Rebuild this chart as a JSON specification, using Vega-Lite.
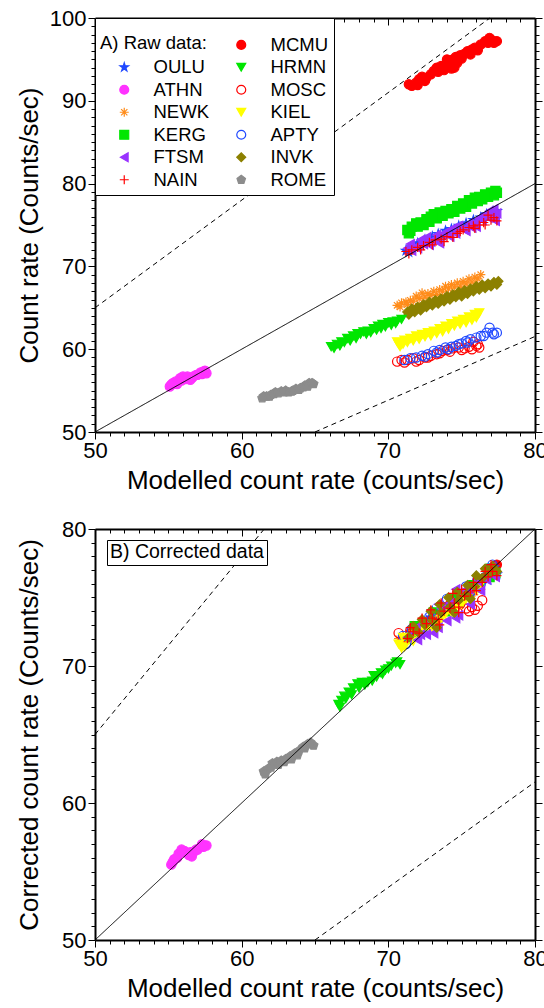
{
  "$schema": "https://vega.github.io/schema/vega-lite/v6.json",
  "padding": {"left": 16, "top": 7, "right": 5, "bottom": 5},
  "config": {
    "font": "Liberation Sans",
    "view": {"stroke": null},
    "axis": {"domainColor": "black", "domainWidth": 2, "tickColor": "black", "tickWidth": 1, "labelColor": "black", "titleColor": "black", "labelFontSize": 22, "titleFontSize": 26, "titleFontWeight": "normal", "grid": false, "labelOverlap": false, "labelFlush": false, "labelBound": false, "labelPadding": 2},
    "legend": {"labelFontSize": 18.5, "titleFontSize": 18.5, "titleFontWeight": "normal", "labelColor": "black", "titleColor": "black"}
  },
  "datasets": {
    "raw": [
      {"s":"MCMU","x":71.4,"y":92.0},{"s":"MCMU","x":71.6,"y":91.8},{"s":"MCMU","x":71.9,"y":92.2},{"s":"MCMU","x":72.1,"y":92.6},{"s":"MCMU","x":72.3,"y":92.9},{"s":"MCMU","x":72.6,"y":92.8},{"s":"MCMU","x":72.9,"y":93.2},{"s":"MCMU","x":73.3,"y":94.0},{"s":"MCMU","x":73.6,"y":94.2},{"s":"MCMU","x":73.9,"y":94.1},{"s":"MCMU","x":74.1,"y":94.5},{"s":"MCMU","x":74.3,"y":93.9},{"s":"MCMU","x":74.4,"y":95.0},{"s":"MCMU","x":74.5,"y":94.0},{"s":"MCMU","x":74.7,"y":94.6},{"s":"MCMU","x":74.9,"y":95.5},{"s":"MCMU","x":75.2,"y":95.7},{"s":"MCMU","x":75.4,"y":96.0},{"s":"MCMU","x":75.7,"y":96.2},{"s":"MCMU","x":75.9,"y":96.4},{"s":"MCMU","x":76.3,"y":96.8},{"s":"MCMU","x":76.6,"y":97.2},{"s":"MCMU","x":76.9,"y":97.6},{"s":"MCMU","x":77.1,"y":97.3},{"s":"MCMU","x":77.4,"y":97.2},
      {"s":"MCMU","x":72.0,"y":91.9},{"s":"MCMU","x":72.5,"y":92.4},{"s":"MCMU","x":73.1,"y":93.6},{"s":"MCMU","x":73.4,"y":93.5},{"s":"MCMU","x":73.8,"y":93.7},{"s":"MCMU","x":74.0,"y":95.0},{"s":"MCMU","x":74.2,"y":94.8},{"s":"MCMU","x":74.6,"y":95.3},{"s":"MCMU","x":75.0,"y":95.1},{"s":"MCMU","x":75.6,"y":95.6},{"s":"MCMU","x":76.1,"y":96.1},{"s":"MCMU","x":76.8,"y":97.0},{"s":"MCMU","x":77.2,"y":97.0},
      {"s":"KERG","x":71.3,"y":74.4},{"s":"KERG","x":71.4,"y":74.0},{"s":"KERG","x":71.6,"y":74.8},{"s":"KERG","x":71.9,"y":75.2},{"s":"KERG","x":72.2,"y":75.3},{"s":"KERG","x":72.6,"y":75.7},{"s":"KERG","x":72.9,"y":76.0},{"s":"KERG","x":73.1,"y":76.3},{"s":"KERG","x":73.5,"y":76.5},{"s":"KERG","x":73.9,"y":76.7},{"s":"KERG","x":74.3,"y":76.9},{"s":"KERG","x":74.7,"y":77.3},{"s":"KERG","x":75.1,"y":77.6},{"s":"KERG","x":75.5,"y":78.0},{"s":"KERG","x":75.9,"y":78.3},{"s":"KERG","x":76.2,"y":78.4},{"s":"KERG","x":76.6,"y":78.7},{"s":"KERG","x":77.0,"y":78.9},{"s":"KERG","x":77.3,"y":79.1},{"s":"KERG","x":77.4,"y":78.9},
      {"s":"KERG","x":71.5,"y":74.3},{"s":"KERG","x":72.0,"y":74.8},{"s":"KERG","x":72.4,"y":75.0},{"s":"KERG","x":72.8,"y":75.4},{"s":"KERG","x":73.3,"y":75.8},{"s":"KERG","x":73.7,"y":76.1},{"s":"KERG","x":74.1,"y":76.4},{"s":"KERG","x":74.5,"y":76.6},{"s":"KERG","x":74.9,"y":77.0},{"s":"KERG","x":75.3,"y":77.2},{"s":"KERG","x":75.7,"y":77.6},{"s":"KERG","x":76.1,"y":77.9},{"s":"KERG","x":76.4,"y":78.1},{"s":"KERG","x":76.8,"y":78.4},{"s":"KERG","x":77.2,"y":78.6},
      {"s":"OULU","x":71.2,"y":71.9},{"s":"OULU","x":71.6,"y":72.3},{"s":"OULU","x":72.0,"y":72.8},{"s":"OULU","x":72.5,"y":73.2},{"s":"OULU","x":73.0,"y":73.6},{"s":"OULU","x":73.4,"y":73.9},{"s":"OULU","x":73.9,"y":74.3},{"s":"OULU","x":74.3,"y":74.5},{"s":"OULU","x":74.8,"y":74.9},{"s":"OULU","x":75.3,"y":75.2},{"s":"OULU","x":75.8,"y":75.6},{"s":"OULU","x":76.3,"y":75.9},{"s":"OULU","x":76.7,"y":76.3},{"s":"OULU","x":77.1,"y":76.6},{"s":"OULU","x":77.4,"y":76.7},
      {"s":"OULU","x":71.4,"y":71.7},{"s":"OULU","x":72.2,"y":72.6},{"s":"OULU","x":73.7,"y":73.7},{"s":"OULU","x":74.5,"y":74.3},{"s":"OULU","x":75.6,"y":75.0},{"s":"OULU","x":76.9,"y":76.0},
      {"s":"FTSM","x":71.3,"y":72.2},{"s":"FTSM","x":71.5,"y":72.7},{"s":"FTSM","x":71.9,"y":72.4},{"s":"FTSM","x":72.2,"y":73.2},{"s":"FTSM","x":72.6,"y":73.5},{"s":"FTSM","x":72.9,"y":73.0},{"s":"FTSM","x":73.3,"y":73.8},{"s":"FTSM","x":73.7,"y":73.9},{"s":"FTSM","x":74.0,"y":74.2},{"s":"FTSM","x":74.4,"y":74.6},{"s":"FTSM","x":74.8,"y":74.9},{"s":"FTSM","x":75.1,"y":74.5},{"s":"FTSM","x":75.5,"y":75.2},{"s":"FTSM","x":75.9,"y":75.3},{"s":"FTSM","x":76.2,"y":75.8},{"s":"FTSM","x":76.6,"y":76.3},{"s":"FTSM","x":76.9,"y":76.7},{"s":"FTSM","x":77.1,"y":76.1},{"s":"FTSM","x":77.4,"y":76.4},{"s":"FTSM","x":77.3,"y":75.5},
      {"s":"FTSM","x":71.6,"y":71.9},{"s":"FTSM","x":72.0,"y":72.2},{"s":"FTSM","x":72.4,"y":72.7},{"s":"FTSM","x":72.8,"y":72.6},{"s":"FTSM","x":73.2,"y":73.3},{"s":"FTSM","x":73.5,"y":72.8},{"s":"FTSM","x":74.2,"y":73.6},{"s":"FTSM","x":74.6,"y":74.0},{"s":"FTSM","x":75.3,"y":74.3},{"s":"FTSM","x":75.7,"y":74.7},{"s":"FTSM","x":76.0,"y":74.8},{"s":"FTSM","x":76.4,"y":75.6},{"s":"FTSM","x":76.8,"y":75.9},{"s":"FTSM","x":77.2,"y":76.9},
      {"s":"NAIN","x":71.2,"y":71.8},{"s":"NAIN","x":71.6,"y":72.0},{"s":"NAIN","x":72.0,"y":72.3},{"s":"NAIN","x":72.4,"y":72.5},{"s":"NAIN","x":72.8,"y":72.9},{"s":"NAIN","x":73.2,"y":73.2},{"s":"NAIN","x":73.6,"y":73.3},{"s":"NAIN","x":74.0,"y":73.6},{"s":"NAIN","x":74.4,"y":73.5},{"s":"NAIN","x":74.7,"y":74.0},{"s":"NAIN","x":75.1,"y":74.4},{"s":"NAIN","x":75.5,"y":74.7},{"s":"NAIN","x":75.8,"y":74.9},{"s":"NAIN","x":76.2,"y":75.0},{"s":"NAIN","x":76.5,"y":75.3},{"s":"NAIN","x":76.8,"y":76.2},{"s":"NAIN","x":77.0,"y":75.6},{"s":"NAIN","x":77.4,"y":75.5},
      {"s":"NAIN","x":71.4,"y":71.5},{"s":"NAIN","x":72.2,"y":72.0},{"s":"NAIN","x":73.0,"y":72.6},{"s":"NAIN","x":73.8,"y":73.0},{"s":"NAIN","x":74.9,"y":74.2},{"s":"NAIN","x":75.9,"y":74.6},{"s":"NAIN","x":76.6,"y":75.0},{"s":"NAIN","x":77.2,"y":75.9},
      {"s":"NEWK","x":70.6,"y":65.3},{"s":"NEWK","x":70.9,"y":65.6},{"s":"NEWK","x":71.2,"y":65.7},{"s":"NEWK","x":71.5,"y":65.9},{"s":"NEWK","x":71.9,"y":66.4},{"s":"NEWK","x":72.3,"y":66.8},{"s":"NEWK","x":72.7,"y":66.7},{"s":"NEWK","x":73.1,"y":67.0},{"s":"NEWK","x":73.5,"y":67.2},{"s":"NEWK","x":73.9,"y":67.6},{"s":"NEWK","x":74.3,"y":67.8},{"s":"NEWK","x":74.7,"y":68.0},{"s":"NEWK","x":75.1,"y":68.2},{"s":"NEWK","x":75.5,"y":68.5},{"s":"NEWK","x":75.9,"y":68.7},{"s":"NEWK","x":76.3,"y":69.0},
      {"s":"NEWK","x":70.8,"y":65.1},{"s":"NEWK","x":71.3,"y":65.4},{"s":"NEWK","x":71.7,"y":65.8},{"s":"NEWK","x":72.1,"y":66.1},{"s":"NEWK","x":72.5,"y":66.3},{"s":"NEWK","x":72.9,"y":66.5},{"s":"NEWK","x":73.3,"y":66.6},{"s":"NEWK","x":73.7,"y":67.0},{"s":"NEWK","x":74.1,"y":67.3},{"s":"NEWK","x":74.5,"y":67.5},{"s":"NEWK","x":74.9,"y":67.6},{"s":"NEWK","x":75.3,"y":67.9},{"s":"NEWK","x":75.7,"y":68.1},{"s":"NEWK","x":76.1,"y":68.5},
      {"s":"INVK","x":71.3,"y":64.5},{"s":"INVK","x":71.6,"y":64.9},{"s":"INVK","x":72.0,"y":65.1},{"s":"INVK","x":72.4,"y":65.4},{"s":"INVK","x":72.8,"y":65.7},{"s":"INVK","x":73.2,"y":65.9},{"s":"INVK","x":73.6,"y":66.1},{"s":"INVK","x":74.0,"y":66.4},{"s":"INVK","x":74.4,"y":66.6},{"s":"INVK","x":74.8,"y":66.9},{"s":"INVK","x":75.2,"y":67.1},{"s":"INVK","x":75.6,"y":67.3},{"s":"INVK","x":76.0,"y":67.6},{"s":"INVK","x":76.4,"y":67.8},{"s":"INVK","x":76.8,"y":67.9},{"s":"INVK","x":77.2,"y":68.1},{"s":"INVK","x":77.5,"y":68.2},
      {"s":"INVK","x":71.4,"y":64.2},{"s":"INVK","x":71.8,"y":64.5},{"s":"INVK","x":72.2,"y":64.7},{"s":"INVK","x":72.6,"y":65.1},{"s":"INVK","x":73.0,"y":65.3},{"s":"INVK","x":73.4,"y":65.5},{"s":"INVK","x":73.8,"y":65.8},{"s":"INVK","x":74.2,"y":66.0},{"s":"INVK","x":74.6,"y":66.3},{"s":"INVK","x":75.0,"y":66.4},{"s":"INVK","x":75.4,"y":66.7},{"s":"INVK","x":75.8,"y":67.0},{"s":"INVK","x":76.2,"y":67.2},{"s":"INVK","x":76.6,"y":67.4},{"s":"INVK","x":77.0,"y":67.6},{"s":"INVK","x":77.4,"y":67.8},
      {"s":"KIEL","x":70.6,"y":60.9},{"s":"KIEL","x":70.8,"y":60.3},{"s":"KIEL","x":71.1,"y":61.1},{"s":"KIEL","x":71.5,"y":61.3},{"s":"KIEL","x":71.9,"y":61.6},{"s":"KIEL","x":72.3,"y":61.8},{"s":"KIEL","x":72.7,"y":62.0},{"s":"KIEL","x":73.1,"y":62.2},{"s":"KIEL","x":73.5,"y":62.5},{"s":"KIEL","x":73.9,"y":62.8},{"s":"KIEL","x":74.3,"y":63.1},{"s":"KIEL","x":74.7,"y":63.4},{"s":"KIEL","x":75.1,"y":63.6},{"s":"KIEL","x":75.5,"y":63.9},{"s":"KIEL","x":75.9,"y":64.2},{"s":"KIEL","x":76.2,"y":64.4},
      {"s":"KIEL","x":70.7,"y":60.6},{"s":"KIEL","x":71.0,"y":60.6},{"s":"KIEL","x":71.3,"y":60.8},{"s":"KIEL","x":71.7,"y":61.0},{"s":"KIEL","x":72.1,"y":61.2},{"s":"KIEL","x":72.5,"y":61.5},{"s":"KIEL","x":72.9,"y":61.6},{"s":"KIEL","x":73.3,"y":61.9},{"s":"KIEL","x":73.7,"y":62.1},{"s":"KIEL","x":74.1,"y":62.4},{"s":"KIEL","x":74.5,"y":62.8},{"s":"KIEL","x":74.9,"y":63.0},{"s":"KIEL","x":75.3,"y":63.2},{"s":"KIEL","x":75.7,"y":63.5},{"s":"KIEL","x":76.0,"y":63.8},
      {"s":"HRMN","x":66.1,"y":60.3},{"s":"HRMN","x":66.5,"y":60.6},{"s":"HRMN","x":66.8,"y":60.9},{"s":"HRMN","x":67.2,"y":61.3},{"s":"HRMN","x":67.6,"y":61.6},{"s":"HRMN","x":67.9,"y":61.9},{"s":"HRMN","x":68.3,"y":62.1},{"s":"HRMN","x":68.6,"y":62.2},{"s":"HRMN","x":69.0,"y":62.5},{"s":"HRMN","x":69.3,"y":62.8},{"s":"HRMN","x":69.6,"y":63.0},{"s":"HRMN","x":70.0,"y":63.2},{"s":"HRMN","x":70.3,"y":63.3},{"s":"HRMN","x":70.6,"y":63.4},{"s":"HRMN","x":70.9,"y":63.6},
      {"s":"HRMN","x":66.3,"y":60.1},{"s":"HRMN","x":66.7,"y":60.4},{"s":"HRMN","x":67.0,"y":60.8},{"s":"HRMN","x":67.4,"y":61.0},{"s":"HRMN","x":67.8,"y":61.3},{"s":"HRMN","x":68.1,"y":61.8},{"s":"HRMN","x":68.5,"y":61.8},{"s":"HRMN","x":68.8,"y":62.0},{"s":"HRMN","x":69.2,"y":62.3},{"s":"HRMN","x":69.5,"y":62.5},{"s":"HRMN","x":69.8,"y":62.7},{"s":"HRMN","x":70.2,"y":62.9},{"s":"HRMN","x":70.5,"y":63.1},
      {"s":"MOSC","x":70.6,"y":58.5},{"s":"MOSC","x":70.9,"y":58.7},{"s":"MOSC","x":71.3,"y":58.7},{"s":"MOSC","x":71.7,"y":58.9},{"s":"MOSC","x":72.1,"y":58.7},{"s":"MOSC","x":72.5,"y":59.0},{"s":"MOSC","x":72.9,"y":59.2},{"s":"MOSC","x":73.3,"y":59.4},{"s":"MOSC","x":73.7,"y":59.8},{"s":"MOSC","x":74.0,"y":59.9},{"s":"MOSC","x":74.4,"y":60.1},{"s":"MOSC","x":74.8,"y":60.2},{"s":"MOSC","x":75.2,"y":60.1},{"s":"MOSC","x":75.5,"y":60.3},{"s":"MOSC","x":75.8,"y":60.9},{"s":"MOSC","x":76.0,"y":60.4},{"s":"MOSC","x":76.2,"y":60.2},
      {"s":"MOSC","x":71.1,"y":58.4},{"s":"MOSC","x":71.9,"y":58.5},{"s":"MOSC","x":72.7,"y":59.0},{"s":"MOSC","x":73.5,"y":59.5},{"s":"MOSC","x":74.2,"y":59.7},{"s":"MOSC","x":75.0,"y":59.9},{"s":"MOSC","x":75.7,"y":60.0},{"s":"MOSC","x":76.1,"y":60.6},
      {"s":"APTY","x":71.1,"y":58.7},{"s":"APTY","x":71.5,"y":58.9},{"s":"APTY","x":71.9,"y":59.0},{"s":"APTY","x":72.3,"y":59.2},{"s":"APTY","x":72.7,"y":59.4},{"s":"APTY","x":73.1,"y":59.8},{"s":"APTY","x":73.5,"y":59.9},{"s":"APTY","x":73.9,"y":60.2},{"s":"APTY","x":74.3,"y":60.3},{"s":"APTY","x":74.6,"y":60.4},{"s":"APTY","x":75.0,"y":60.7},{"s":"APTY","x":75.3,"y":61.0},{"s":"APTY","x":75.6,"y":61.2},{"s":"APTY","x":76.0,"y":61.4},{"s":"APTY","x":76.3,"y":61.6},{"s":"APTY","x":76.7,"y":62.0},{"s":"APTY","x":76.9,"y":62.6},{"s":"APTY","x":77.1,"y":62.0},{"s":"APTY","x":77.4,"y":62.0},
      {"s":"APTY","x":72.5,"y":59.1},{"s":"APTY","x":73.3,"y":59.6},{"s":"APTY","x":74.1,"y":60.0},{"s":"APTY","x":74.8,"y":60.6},{"s":"APTY","x":75.4,"y":60.8},{"s":"APTY","x":76.5,"y":61.6},{"s":"APTY","x":77.2,"y":61.8},
      {"s":"ATHN","x":55.1,"y":55.5},{"s":"ATHN","x":55.3,"y":55.9},{"s":"ATHN","x":55.5,"y":56.1},{"s":"ATHN","x":55.8,"y":56.5},{"s":"ATHN","x":56.0,"y":56.7},{"s":"ATHN","x":56.2,"y":56.4},{"s":"ATHN","x":56.5,"y":56.3},{"s":"ATHN","x":56.7,"y":56.7},{"s":"ATHN","x":56.9,"y":56.9},{"s":"ATHN","x":57.2,"y":57.2},{"s":"ATHN","x":57.4,"y":57.3},{"s":"ATHN","x":57.6,"y":57.1},
      {"s":"ATHN","x":55.2,"y":55.7},{"s":"ATHN","x":55.6,"y":55.8},{"s":"ATHN","x":55.9,"y":56.2},{"s":"ATHN","x":56.3,"y":56.7},{"s":"ATHN","x":56.6,"y":56.5},{"s":"ATHN","x":57.0,"y":56.9},{"s":"ATHN","x":57.3,"y":57.0},{"s":"ATHN","x":57.5,"y":57.4},
      {"s":"ROME","x":61.4,"y":54.1},{"s":"ROME","x":61.7,"y":54.3},{"s":"ROME","x":62.0,"y":54.5},{"s":"ROME","x":62.3,"y":54.8},{"s":"ROME","x":62.7,"y":54.9},{"s":"ROME","x":63.0,"y":55.0},{"s":"ROME","x":63.4,"y":54.9},{"s":"ROME","x":63.7,"y":55.2},{"s":"ROME","x":64.0,"y":55.3},{"s":"ROME","x":64.3,"y":55.6},{"s":"ROME","x":64.6,"y":55.9},{"s":"ROME","x":64.9,"y":55.8},
      {"s":"ROME","x":61.5,"y":54.3},{"s":"ROME","x":61.9,"y":54.3},{"s":"ROME","x":62.2,"y":54.6},{"s":"ROME","x":62.5,"y":54.7},{"s":"ROME","x":62.9,"y":54.8},{"s":"ROME","x":63.2,"y":54.8},{"s":"ROME","x":63.5,"y":55.0},{"s":"ROME","x":63.9,"y":55.1},{"s":"ROME","x":64.2,"y":55.4},{"s":"ROME","x":64.5,"y":55.5},{"s":"ROME","x":64.8,"y":55.9}
    ],
    "corr": [
      {"s":"ATHN","x":55.2,"y":55.5},{"s":"ATHN","x":55.4,"y":55.9},{"s":"ATHN","x":55.7,"y":56.3},{"s":"ATHN","x":55.9,"y":56.6},{"s":"ATHN","x":56.1,"y":56.5},{"s":"ATHN","x":56.4,"y":56.2},{"s":"ATHN","x":56.6,"y":56.1},{"s":"ATHN","x":56.8,"y":56.5},{"s":"ATHN","x":57.0,"y":56.6},{"s":"ATHN","x":57.3,"y":57.0},{"s":"ATHN","x":57.6,"y":56.9},
      {"s":"ATHN","x":55.3,"y":55.7},{"s":"ATHN","x":55.6,"y":56.0},{"s":"ATHN","x":56.0,"y":56.4},{"s":"ATHN","x":56.5,"y":56.4},{"s":"ATHN","x":56.9,"y":56.6},{"s":"ATHN","x":57.4,"y":56.8},
      {"s":"ROME","x":61.5,"y":62.3},{"s":"ROME","x":61.8,"y":62.5},{"s":"ROME","x":62.1,"y":62.9},{"s":"ROME","x":62.4,"y":63.0},{"s":"ROME","x":62.7,"y":63.1},{"s":"ROME","x":63.0,"y":63.2},{"s":"ROME","x":63.3,"y":63.4},{"s":"ROME","x":63.6,"y":63.6},{"s":"ROME","x":63.9,"y":63.8},{"s":"ROME","x":64.2,"y":64.1},{"s":"ROME","x":64.5,"y":64.3},{"s":"ROME","x":64.9,"y":64.2},
      {"s":"ROME","x":61.6,"y":62.1},{"s":"ROME","x":62.0,"y":62.6},{"s":"ROME","x":62.5,"y":62.8},{"s":"ROME","x":62.9,"y":63.0},{"s":"ROME","x":63.4,"y":63.2},{"s":"ROME","x":63.8,"y":63.5},{"s":"ROME","x":64.3,"y":64.0},{"s":"ROME","x":64.7,"y":64.4},
      {"s":"HRMN","x":66.6,"y":67.2},{"s":"HRMN","x":66.8,"y":67.5},{"s":"HRMN","x":67.0,"y":67.8},{"s":"HRMN","x":67.3,"y":68.1},{"s":"HRMN","x":67.6,"y":68.4},{"s":"HRMN","x":67.9,"y":68.7},{"s":"HRMN","x":68.2,"y":68.8},{"s":"HRMN","x":68.6,"y":68.8},{"s":"HRMN","x":68.9,"y":68.9},{"s":"HRMN","x":69.2,"y":69.2},{"s":"HRMN","x":69.5,"y":69.5},{"s":"HRMN","x":69.8,"y":69.7},{"s":"HRMN","x":70.2,"y":70.0},{"s":"HRMN","x":70.5,"y":70.2},{"s":"HRMN","x":70.8,"y":70.1},
      {"s":"HRMN","x":66.7,"y":67.0},{"s":"HRMN","x":67.1,"y":67.6},{"s":"HRMN","x":67.5,"y":67.9},{"s":"HRMN","x":68.0,"y":68.4},{"s":"HRMN","x":68.4,"y":68.6},{"s":"HRMN","x":69.0,"y":69.3},{"s":"HRMN","x":69.6,"y":69.4},{"s":"HRMN","x":70.0,"y":69.8},{"s":"HRMN","x":70.6,"y":70.3},
      {"s":"MCMU","x":71.5,"y":72.4},{"s":"MCMU","x":72.2,"y":73.0},{"s":"MCMU","x":72.9,"y":73.4},{"s":"MCMU","x":73.5,"y":73.9},{"s":"MCMU","x":74.2,"y":74.5},{"s":"MCMU","x":74.6,"y":74.6},{"s":"MCMU","x":75.3,"y":75.3},{"s":"MCMU","x":75.9,"y":75.8},{"s":"MCMU","x":76.5,"y":76.4},{"s":"MCMU","x":77.2,"y":77.0},
      {"s":"MCMU","x":71.9,"y":72.9},{"s":"MCMU","x":73.2,"y":73.8},{"s":"MCMU","x":74.9,"y":74.9},{"s":"MCMU","x":76.2,"y":76.2},{"s":"MCMU","x":77.4,"y":77.4},
      {"s":"OULU","x":71.3,"y":72.1},{"s":"OULU","x":72.0,"y":72.6},{"s":"OULU","x":72.6,"y":73.3},{"s":"OULU","x":73.3,"y":73.7},{"s":"OULU","x":74.0,"y":74.2},{"s":"OULU","x":74.7,"y":74.6},{"s":"OULU","x":75.4,"y":75.2},{"s":"OULU","x":76.1,"y":75.6},{"s":"OULU","x":76.8,"y":76.3},{"s":"OULU","x":77.4,"y":76.7},
      {"s":"OULU","x":71.7,"y":72.7},{"s":"OULU","x":73.0,"y":74.0},{"s":"OULU","x":74.4,"y":74.9},{"s":"OULU","x":75.8,"y":76.1},{"s":"OULU","x":77.2,"y":77.2},
      {"s":"KERG","x":71.4,"y":72.0},{"s":"KERG","x":72.0,"y":72.5},{"s":"KERG","x":72.7,"y":73.1},{"s":"KERG","x":73.4,"y":73.6},{"s":"KERG","x":74.1,"y":74.0},{"s":"KERG","x":74.8,"y":74.7},{"s":"KERG","x":75.5,"y":75.3},{"s":"KERG","x":76.2,"y":75.9},{"s":"KERG","x":76.9,"y":76.5},{"s":"KERG","x":77.3,"y":76.8},
      {"s":"KERG","x":71.8,"y":72.9},{"s":"KERG","x":73.1,"y":73.9},{"s":"KERG","x":74.4,"y":74.9},{"s":"KERG","x":75.8,"y":75.9},{"s":"KERG","x":77.0,"y":77.1},
      {"s":"NEWK","x":70.7,"y":72.0},{"s":"NEWK","x":71.3,"y":72.1},{"s":"NEWK","x":71.9,"y":72.6},{"s":"NEWK","x":72.6,"y":73.2},{"s":"NEWK","x":73.3,"y":73.6},{"s":"NEWK","x":74.0,"y":74.3},{"s":"NEWK","x":74.6,"y":74.5},{"s":"NEWK","x":75.3,"y":74.9},{"s":"NEWK","x":75.9,"y":75.4},{"s":"NEWK","x":76.3,"y":75.6},
      {"s":"NEWK","x":71.0,"y":71.8},{"s":"NEWK","x":71.6,"y":72.4},{"s":"NEWK","x":72.3,"y":73.0},{"s":"NEWK","x":73.0,"y":73.4},{"s":"NEWK","x":73.7,"y":73.8},{"s":"NEWK","x":74.3,"y":74.0},{"s":"NEWK","x":75.0,"y":74.7},{"s":"NEWK","x":75.6,"y":75.1},
      {"s":"MOSC","x":70.7,"y":72.4},{"s":"MOSC","x":71.0,"y":71.9},{"s":"MOSC","x":71.5,"y":72.6},{"s":"MOSC","x":72.2,"y":72.8},{"s":"MOSC","x":72.9,"y":73.3},{"s":"MOSC","x":73.6,"y":73.8},{"s":"MOSC","x":74.3,"y":74.3},{"s":"MOSC","x":74.9,"y":74.5},{"s":"MOSC","x":75.3,"y":74.2},{"s":"MOSC","x":75.7,"y":74.3},{"s":"MOSC","x":76.1,"y":74.4},{"s":"MOSC","x":75.9,"y":74.1},
      {"s":"MOSC","x":71.3,"y":72.0},{"s":"MOSC","x":71.8,"y":72.2},{"s":"MOSC","x":72.5,"y":72.6},{"s":"MOSC","x":73.2,"y":73.0},{"s":"MOSC","x":76.4,"y":74.8},{"s":"MOSC","x":75.5,"y":74.0},
      {"s":"APTY","x":71.2,"y":71.6},{"s":"APTY","x":71.8,"y":72.2},{"s":"APTY","x":72.4,"y":72.8},{"s":"APTY","x":73.0,"y":73.5},{"s":"APTY","x":73.7,"y":74.0},{"s":"APTY","x":74.3,"y":74.4},{"s":"APTY","x":75.0,"y":75.2},{"s":"APTY","x":75.6,"y":75.4},{"s":"APTY","x":76.3,"y":76.0},{"s":"APTY","x":76.9,"y":77.1},{"s":"APTY","x":77.3,"y":76.8},
      {"s":"APTY","x":71.0,"y":72.2},{"s":"APTY","x":71.6,"y":72.7},{"s":"APTY","x":72.8,"y":73.6},{"s":"APTY","x":74.0,"y":74.9},{"s":"APTY","x":75.3,"y":75.8},{"s":"APTY","x":76.6,"y":76.5},{"s":"APTY","x":77.1,"y":77.4},
      {"s":"KIEL","x":70.7,"y":71.6},{"s":"KIEL","x":70.9,"y":71.3},{"s":"KIEL","x":71.4,"y":71.9},{"s":"KIEL","x":72.0,"y":72.3},{"s":"KIEL","x":72.7,"y":72.9},{"s":"KIEL","x":73.3,"y":73.1},{"s":"KIEL","x":73.9,"y":73.8},{"s":"KIEL","x":74.6,"y":74.3},{"s":"KIEL","x":75.3,"y":74.9},{"s":"KIEL","x":76.0,"y":75.5},{"s":"KIEL","x":76.2,"y":75.8},
      {"s":"KIEL","x":71.1,"y":71.4},{"s":"KIEL","x":71.7,"y":71.8},{"s":"KIEL","x":72.4,"y":72.6},{"s":"KIEL","x":73.0,"y":72.8},{"s":"KIEL","x":73.6,"y":73.4},{"s":"KIEL","x":74.3,"y":73.9},{"s":"KIEL","x":75.0,"y":74.5},{"s":"KIEL","x":71.0,"y":72.1},
      {"s":"FTSM","x":71.3,"y":72.1},{"s":"FTSM","x":71.9,"y":72.8},{"s":"FTSM","x":72.2,"y":72.3},{"s":"FTSM","x":72.8,"y":73.2},{"s":"FTSM","x":73.1,"y":72.4},{"s":"FTSM","x":73.6,"y":74.2},{"s":"FTSM","x":74.2,"y":74.6},{"s":"FTSM","x":74.6,"y":73.5},{"s":"FTSM","x":75.0,"y":75.4},{"s":"FTSM","x":75.5,"y":75.6},{"s":"FTSM","x":76.1,"y":76.2},{"s":"FTSM","x":76.7,"y":76.3},{"s":"FTSM","x":77.0,"y":77.2},{"s":"FTSM","x":77.3,"y":76.5},
      {"s":"FTSM","x":72.0,"y":71.9},{"s":"FTSM","x":72.6,"y":72.3},{"s":"FTSM","x":73.4,"y":72.8},{"s":"FTSM","x":74.0,"y":73.3},{"s":"FTSM","x":74.8,"y":73.7},{"s":"FTSM","x":75.6,"y":74.5},{"s":"FTSM","x":76.3,"y":75.5},{"s":"FTSM","x":76.7,"y":77.0},{"s":"FTSM","x":74.6,"y":75.6},{"s":"FTSM","x":73.4,"y":74.5},
      {"s":"INVK","x":71.4,"y":72.1},{"s":"INVK","x":72.0,"y":72.5},{"s":"INVK","x":72.5,"y":73.0},{"s":"INVK","x":73.0,"y":73.3},{"s":"INVK","x":73.6,"y":73.9},{"s":"INVK","x":74.2,"y":74.3},{"s":"INVK","x":74.8,"y":74.8},{"s":"INVK","x":75.3,"y":75.2},{"s":"INVK","x":75.9,"y":75.8},{"s":"INVK","x":76.4,"y":76.4},{"s":"INVK","x":76.9,"y":76.8},{"s":"INVK","x":77.4,"y":76.9},{"s":"INVK","x":77.1,"y":77.3},
      {"s":"INVK","x":71.7,"y":72.9},{"s":"INVK","x":72.3,"y":73.4},{"s":"INVK","x":72.9,"y":74.0},{"s":"INVK","x":73.5,"y":74.5},{"s":"INVK","x":74.1,"y":75.0},{"s":"INVK","x":74.7,"y":75.4},{"s":"INVK","x":75.4,"y":75.9},{"s":"INVK","x":76.0,"y":76.6},{"s":"INVK","x":76.6,"y":77.1},{"s":"INVK","x":73.3,"y":72.8},{"s":"INVK","x":74.5,"y":73.9},{"s":"INVK","x":75.6,"y":74.9},
      {"s":"NAIN","x":71.3,"y":72.0},{"s":"NAIN","x":71.7,"y":72.5},{"s":"NAIN","x":72.1,"y":72.4},{"s":"NAIN","x":72.6,"y":73.1},{"s":"NAIN","x":73.0,"y":73.5},{"s":"NAIN","x":73.4,"y":73.4},{"s":"NAIN","x":73.8,"y":74.0},{"s":"NAIN","x":74.2,"y":74.2},{"s":"NAIN","x":74.5,"y":74.6},{"s":"NAIN","x":74.8,"y":73.9},{"s":"NAIN","x":75.2,"y":75.1},{"s":"NAIN","x":75.6,"y":75.4},{"s":"NAIN","x":76.0,"y":75.5},{"s":"NAIN","x":76.4,"y":76.1},{"s":"NAIN","x":76.8,"y":76.5},{"s":"NAIN","x":77.1,"y":76.9},{"s":"NAIN","x":77.4,"y":76.6},
      {"s":"NAIN","x":71.5,"y":72.8},{"s":"NAIN","x":72.3,"y":73.5},{"s":"NAIN","x":72.9,"y":74.1},{"s":"NAIN","x":73.6,"y":74.6},{"s":"NAIN","x":74.4,"y":75.3},{"s":"NAIN","x":75.0,"y":75.6},{"s":"NAIN","x":75.8,"y":76.1},{"s":"NAIN","x":76.6,"y":76.9},{"s":"NAIN","x":77.0,"y":77.4},{"s":"NAIN","x":73.5,"y":73.0},{"s":"NAIN","x":74.8,"y":74.3}
    ],
    "linesA": [
      {"g":"a","k":"solid","x":50,"y":50},{"g":"a","k":"solid","x":80,"y":80},
      {"g":"b","k":"dashed","x":50,"y":65},{"g":"b","k":"dashed","x":76.923,"y":100},
      {"g":"c","k":"dashed","x":65,"y":50},{"g":"c","k":"dashed","x":80,"y":61.538}
    ],
    "linesB": [
      {"g":"a","k":"solid","x":50,"y":50},{"g":"a","k":"solid","x":80,"y":80},
      {"g":"b","k":"dashed","x":50,"y":65},{"g":"b","k":"dashed","x":61.538,"y":80},
      {"g":"c","k":"dashed","x":65,"y":50},{"g":"c","k":"dashed","x":80,"y":61.538}
    ]
  },
  "vconcat": [
    {
      "width": 440,
      "height": 414,
      "layer": [
        {
          "data": {"name": "raw"},
          "mark": {"type": "point", "strokeWidth": 1.2, "opacity": 1, "size": 85},
          "encoding": {
            "x": {"field": "x", "type": "quantitative", "scale": {"domain": [50, 80], "nice": false, "zero": false},
              "axis": {"orient": "top", "values": [50,51,52,53,54,55,56,57,58,59,60,61,62,63,64,65,66,67,68,69,70,71,72,73,74,75,76,77,78,79,80], "labels": false, "title": null, "tickSize": {"condition": {"test": "datum.value % 10 === 0", "value": -7}, "value": -4}}},
            "y": {"field": "y", "type": "quantitative", "scale": {"domain": [50, 100], "nice": false, "zero": false},
              "axis": {"orient": "right", "values": [50,51,52,53,54,55,56,57,58,59,60,61,62,63,64,65,66,67,68,69,70,71,72,73,74,75,76,77,78,79,80,81,82,83,84,85,86,87,88,89,90,91,92,93,94,95,96,97,98,99,100], "labels": false, "title": null, "tickSize": {"condition": {"test": "datum.value % 10 === 0", "value": 7}, "value": 4}}},
            "fill": {"field": "s", "type": "nominal",
              "scale": {"domain": [" ","OULU","ATHN","NEWK","KERG","FTSM","NAIN","MCMU","HRMN","MOSC","KIEL","APTY","INVK","ROME"],
                        "range": ["transparent","#1f48ff","#ff33ff","transparent","#00e600","#9933ff","transparent","#ff0000","#00e600","transparent","#ffff00","transparent","#8c8000","#8c8c8c"]},
              "legend": {"title": "A) Raw data:", "orient": "none", "legendX": 0, "legendY": 0, "columns": 2, "padding": 5, "strokeColor": "black", "fillColor": "white", "titleBaseline": "line-top", "titleLineHeight": 42, "titlePadding": -6, "symbolOffset": 15, "labelOffset": 20, "columnPadding": 8, "rowPadding": 3.5, "symbolSize": 80, "symbolStrokeWidth": 1.2,
                "encode": {"legend": {"update": {"strokeWidth": {"value": 2}}}}}},
            "stroke": {"field": "s", "type": "nominal",
              "scale": {"domain": [" ","OULU","ATHN","NEWK","KERG","FTSM","NAIN","MCMU","HRMN","MOSC","KIEL","APTY","INVK","ROME"],
                        "range": ["transparent","#1f48ff","#ff33ff","#ff8c1a","#00e600","#9933ff","#ff0000","#ff0000","#00e600","#ff0000","#ffff00","#1f48ff","#8c8000","#8c8c8c"]}},
            "shape": {"field": "s", "type": "nominal",
              "scale": {"domain": [" ","OULU","ATHN","NEWK","KERG","FTSM","NAIN","MCMU","HRMN","MOSC","KIEL","APTY","INVK","ROME"],
                        "range": ["M0,0L0,0", "M0,-1L0.225,-0.309L0.951,-0.309L0.363,0.118L0.588,0.809L0,0.382L-0.588,0.809L-0.363,0.118L-0.951,-0.309L-0.225,-0.309Z", "circle", "M-1,0L1,0M0,-1L0,1M-0.7,-0.7L0.7,0.7M-0.7,0.7L0.7,-0.7", "square", "triangle-left", "M-1,0L1,0M0,-1L0,1", "circle", "triangle-down", "circle", "triangle-down", "circle", "diamond", "M0,-1L0.951,-0.309L0.588,0.809L-0.588,0.809L-0.951,-0.309Z"]}}
          }
        },
        {
          "data": {"name": "linesA"},
          "mark": {"type": "line", "color": "black", "strokeWidth": 1},
          "encoding": {
            "x": {"field": "x", "type": "quantitative", "scale": {"domain": [50, 80], "nice": false, "zero": false},
              "axis": {"orient": "bottom", "values": [50,51,52,53,54,55,56,57,58,59,60,61,62,63,64,65,66,67,68,69,70,71,72,73,74,75,76,77,78,79,80], "labelExpr": "datum.value % 10 === 0 ? datum.label : ''", "labelPadding": 1, "title": "Modelled count rate (counts/sec)", "titlePadding": 6, "tickSize": {"condition": {"test": "datum.value % 10 === 0", "value": 7}, "value": 4}}},
            "y": {"field": "y", "type": "quantitative", "scale": {"domain": [50, 100], "nice": false, "zero": false},
              "axis": {"orient": "left", "values": [50,51,52,53,54,55,56,57,58,59,60,61,62,63,64,65,66,67,68,69,70,71,72,73,74,75,76,77,78,79,80,81,82,83,84,85,86,87,88,89,90,91,92,93,94,95,96,97,98,99,100], "labelExpr": "datum.value % 10 === 0 ? datum.label : ''", "title": "Count rate (Counts/sec)", "titlePadding": 7, "tickSize": {"condition": {"test": "datum.value % 10 === 0", "value": 7}, "value": 4}}},
            "detail": {"field": "g", "type": "nominal"},
            "strokeDash": {"field": "k", "type": "nominal", "scale": {"domain": ["solid", "dashed"], "range": [[1, 0], [5, 4]]}, "legend": null}
          }
        }
      ],
      "resolve": {"axis": {"x": "independent", "y": "independent"}}
    },
    {
      "width": 440,
      "height": 411,
      "layer": [
        {
          "data": {"name": "corr"},
          "mark": {"type": "point", "strokeWidth": 1.2, "opacity": 1, "size": 85},
          "encoding": {
            "x": {"field": "x", "type": "quantitative", "scale": {"domain": [50, 80], "nice": false, "zero": false},
              "axis": {"orient": "top", "values": [50,51,52,53,54,55,56,57,58,59,60,61,62,63,64,65,66,67,68,69,70,71,72,73,74,75,76,77,78,79,80], "labels": false, "title": null, "tickSize": {"condition": {"test": "datum.value % 10 === 0", "value": -7}, "value": -4}}},
            "y": {"field": "y", "type": "quantitative", "scale": {"domain": [50, 80], "nice": false, "zero": false},
              "axis": {"orient": "right", "values": [50,51,52,53,54,55,56,57,58,59,60,61,62,63,64,65,66,67,68,69,70,71,72,73,74,75,76,77,78,79,80], "labels": false, "title": null, "tickSize": {"condition": {"test": "datum.value % 10 === 0", "value": 7}, "value": 4}}},
            "fill": {"field": "s", "type": "nominal",
              "scale": {"domain": [" ","OULU","ATHN","NEWK","KERG","FTSM","NAIN","MCMU","HRMN","MOSC","KIEL","APTY","INVK","ROME"],
                        "range": ["transparent","#1f48ff","#ff33ff","transparent","#00e600","#9933ff","transparent","#ff0000","#00e600","transparent","#ffff00","transparent","#8c8000","#8c8c8c"]},
              "legend": null},
            "stroke": {"field": "s", "type": "nominal",
              "scale": {"domain": [" ","OULU","ATHN","NEWK","KERG","FTSM","NAIN","MCMU","HRMN","MOSC","KIEL","APTY","INVK","ROME"],
                        "range": ["transparent","#1f48ff","#ff33ff","#ff8c1a","#00e600","#9933ff","#ff0000","#ff0000","#00e600","#ff0000","#ffff00","#1f48ff","#8c8000","#8c8c8c"]},
              "legend": null},
            "shape": {"field": "s", "type": "nominal",
              "scale": {"domain": [" ","OULU","ATHN","NEWK","KERG","FTSM","NAIN","MCMU","HRMN","MOSC","KIEL","APTY","INVK","ROME"],
                        "range": ["M0,0L0,0", "M0,-1L0.225,-0.309L0.951,-0.309L0.363,0.118L0.588,0.809L0,0.382L-0.588,0.809L-0.363,0.118L-0.951,-0.309L-0.225,-0.309Z", "circle", "M-1,0L1,0M0,-1L0,1M-0.7,-0.7L0.7,0.7M-0.7,0.7L0.7,-0.7", "square", "triangle-left", "M-1,0L1,0M0,-1L0,1", "circle", "triangle-down", "circle", "triangle-down", "circle", "diamond", "M0,-1L0.951,-0.309L0.588,0.809L-0.588,0.809L-0.951,-0.309Z"]},
              "legend": {"title": "B) Corrected data", "values": [], "orient": "none", "legendX": 12, "legendY": 11, "padding": 3, "strokeColor": "black", "fillColor": "white", "titlePadding": 0, "titleFontSize": 19.5,
                "encode": {"legend": {"update": {"strokeWidth": {"value": 2}}}}}}
          }
        },
        {
          "data": {"name": "linesB"},
          "mark": {"type": "line", "color": "black", "strokeWidth": 1},
          "encoding": {
            "x": {"field": "x", "type": "quantitative", "scale": {"domain": [50, 80], "nice": false, "zero": false},
              "axis": {"orient": "bottom", "values": [50,51,52,53,54,55,56,57,58,59,60,61,62,63,64,65,66,67,68,69,70,71,72,73,74,75,76,77,78,79,80], "labelExpr": "datum.value % 10 === 0 ? datum.label : ''", "labelPadding": 1, "title": "Modelled count rate (counts/sec)", "titlePadding": 6, "tickSize": {"condition": {"test": "datum.value % 10 === 0", "value": 7}, "value": 4}}},
            "y": {"field": "y", "type": "quantitative", "scale": {"domain": [50, 80], "nice": false, "zero": false},
              "axis": {"orient": "left", "values": [50,51,52,53,54,55,56,57,58,59,60,61,62,63,64,65,66,67,68,69,70,71,72,73,74,75,76,77,78,79,80], "labelExpr": "datum.value % 10 === 0 ? datum.label : ''", "title": "Corrected count rate (Counts/sec)", "titlePadding": 19, "tickSize": {"condition": {"test": "datum.value % 10 === 0", "value": 7}, "value": 4}}},
            "detail": {"field": "g", "type": "nominal"},
            "strokeDash": {"field": "k", "type": "nominal", "scale": {"domain": ["solid", "dashed"], "range": [[1, 0], [5, 4]]}, "legend": null}
          }
        }
      ],
      "resolve": {"axis": {"x": "independent", "y": "independent"}}
    }
  ],
  "spacing": 25,
  "resolve": {"scale": {"fill": "independent", "stroke": "independent", "shape": "independent", "strokeDash": "independent"}, "legend": {"fill": "independent", "stroke": "independent", "shape": "independent", "strokeDash": "independent"}}
}
